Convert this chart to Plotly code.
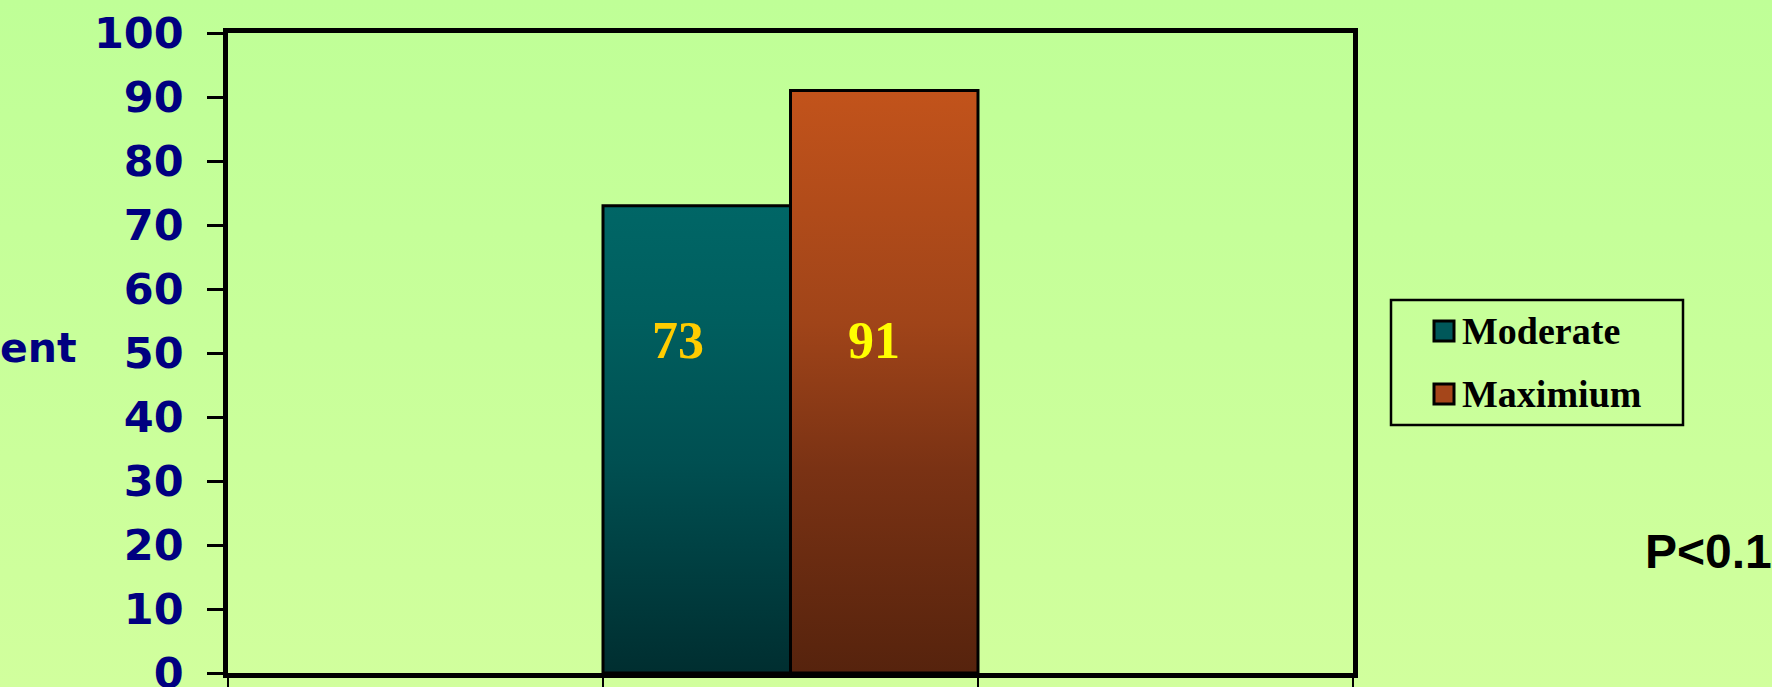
import base64
import plotly.graph_objects as go

# ---- data -------------------------------------------------------------
series_names = ["Moderate", "Maximium"]
series_values = [73, 91]
category_slots = 3          # category bands along the x axis
data_slot = 1               # band that holds the two bars
y_ticks = [0, 10, 20, 30, 40, 50, 60, 70, 80, 90, 100]
p_value_text = "P<0.1"
side_text = "ent"

# ---- styling ----------------------------------------------------------
W, H = 1772, 687
M_L, M_R, M_T, M_B = 228, 419, 33, 14
bar_gradients = [
    [[0.0, "#002E30"], [0.45, "#004F51"], [0.75, "#005E5E"], [1.0, "#006666"]],
    [[0.0, "#56230D"], [0.35, "#7A3214"], [0.6, "#A04419"], [1.0, "#C2531B"]],
]
swatch_colors = ["#00585A", "#A5461A"]
label_colors = ["#FFCC00", "#FFFF00"]
label_xshift = [-19, -10]
label_level = 52
navy = "#000080"

plot_w = W - M_L - M_R
plot_h = H - M_T - M_B


def px_to_paper_x(px):
    return (px - M_L) / plot_w


def px_to_paper_y(py):
    return (H - M_B - py) / plot_h


fig = go.Figure()

# bars: each series takes half of its category band, filled with a vertical gradient
n_series = len(series_values)
band_left = data_slot - 0.5
for i, (name, val) in enumerate(zip(series_names, series_values)):
    x0 = band_left + i / n_series
    x1 = band_left + (i + 1) / n_series
    fig.add_trace(go.Scatter(
        x=[x0, x0, x1, x1, x0],
        y=[0, val, val, 0, 0],
        mode="lines",
        fill="toself",
        fillgradient=dict(type="vertical", colorscale=bar_gradients[i]),
        line=dict(color="black", width=3),
        name=name,
        showlegend=False,
        hoverinfo="skip",
    ))
    fig.add_annotation(
        x=(x0 + x1) / 2, y=label_level, xref="x", yref="y",
        text=str(val), showarrow=False, xshift=label_xshift[i],
        font=dict(family="Liberation Serif", size=52, color=label_colors[i],
                  weight="bold"),
    )

# legend box
lg_x0, lg_x1, lg_y0, lg_y1 = 1391, 1683, 300, 425
fig.add_shape(type="rect", xref="paper", yref="paper",
              x0=px_to_paper_x(lg_x0), x1=px_to_paper_x(lg_x1),
              y0=px_to_paper_y(lg_y1), y1=px_to_paper_y(lg_y0),
              line=dict(color="black", width=2.5), fillcolor="rgba(0,0,0,0)")
row_centers = [331, 394]
for i, name in enumerate(series_names):
    cy = row_centers[i]
    fig.add_shape(type="rect", xref="paper", yref="paper",
                  x0=px_to_paper_x(1434), x1=px_to_paper_x(1454),
                  y0=px_to_paper_y(cy + 10), y1=px_to_paper_y(cy - 10),
                  line=dict(color="black", width=3), fillcolor=swatch_colors[i])
    fig.add_annotation(
        x=px_to_paper_x(1460), y=px_to_paper_y(cy), xref="paper", yref="paper",
        xanchor="left", yanchor="middle", text=name, showarrow=False,
        font=dict(family="Liberation Serif", size=38, color="black", weight="bold"),
    )

# side texts
fig.add_annotation(
    x=px_to_paper_x(-2), y=px_to_paper_y(348), xref="paper", yref="paper",
    xanchor="left", yanchor="middle", text=side_text, showarrow=False,
    font=dict(family="DejaVu Sans", size=41, color=navy, weight="bold"),
)
fig.add_annotation(
    x=px_to_paper_x(1643), y=px_to_paper_y(551), xref="paper", yref="paper",
    xanchor="left", yanchor="middle", text=p_value_text, showarrow=False,
    font=dict(family="Liberation Sans", size=48, color="black", weight="bold"),
)

# soft green page background
svg = (
    '<svg xmlns="http://www.w3.org/2000/svg" width="10" height="100" '
    'preserveAspectRatio="none"><defs><linearGradient id="g" x1="0" y1="0" '
    'x2="0" y2="1"><stop offset="0" stop-color="#BFFF97"/>'
    '<stop offset="1" stop-color="#D1FF9D"/></linearGradient></defs>'
    '<rect width="10" height="100" fill="url(#g)"/></svg>'
)
bg_src = "data:image/svg+xml;base64," + base64.b64encode(svg.encode()).decode()
fig.add_layout_image(
    source=bg_src, xref="paper", yref="paper",
    x=px_to_paper_x(0), y=px_to_paper_y(0),
    sizex=W / plot_w, sizey=H / plot_h,
    xanchor="left", yanchor="top", sizing="stretch", layer="below",
)

fig.update_layout(
    width=W, height=H,
    margin=dict(l=M_L, r=M_R, t=M_T, b=M_B, pad=0, autoexpand=False),
    paper_bgcolor="#C8FF9A",
    plot_bgcolor="rgba(0,0,0,0)",
    showlegend=False,
    xaxis=dict(
        range=[-0.5, category_slots - 0.5],
        tickvals=[k - 0.5 for k in range(category_slots + 1)],
        showticklabels=False, ticks="outside", ticklen=20, tickwidth=1.5,
        tickcolor="black", showgrid=False, zeroline=False,
        showline=True, linecolor="black", linewidth=4.5, mirror=True,
        fixedrange=True, automargin=False,
    ),
    yaxis=dict(
        range=[0, 100], tickvals=y_ticks, ticktext=[str(t) for t in y_ticks],
        ticks="outside", ticklen=16, tickwidth=2.5, tickcolor="black",
        ticklabelstandoff=15, ticklabeloverflow="allow",
        tickfont=dict(family="DejaVu Sans", size=43, color=navy, weight="bold"),
        showgrid=False, zeroline=False,
        showline=True, linecolor="black", linewidth=4.5, mirror=True,
        fixedrange=True, automargin=False,
    ),
)

fig.write_html("out.html")
